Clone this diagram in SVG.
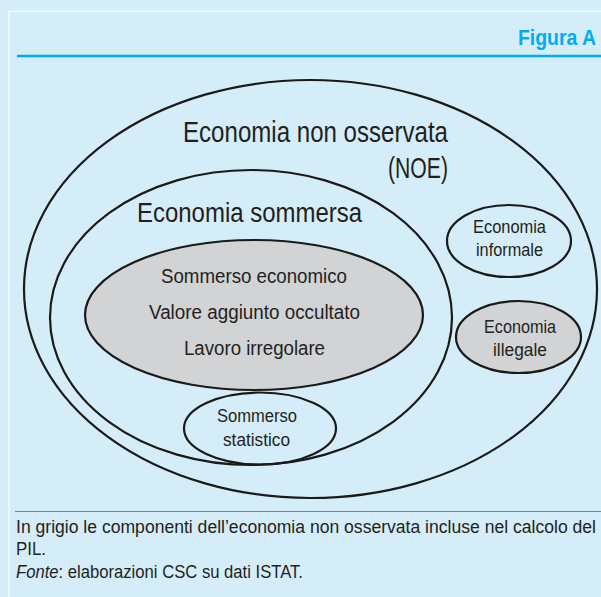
<svg xmlns="http://www.w3.org/2000/svg" width="601" height="597" viewBox="0 0 601 597">
<style>
text{font-family:"Liberation Sans Narrow","Liberation Sans",Arial,sans-serif;fill:#231f20;}
.e{stroke:#1a1a1a;stroke-width:2.2;fill:none;}
.g{fill:#d1d3d4;}
.c{text-anchor:middle;}
.s{font-size:17.5px;}
</style>
<rect x="0" y="0" width="601" height="597" fill="#d5edf9"/>
<g id="frame">
<line x1="8" y1="11.5" x2="601" y2="11.5" stroke="#ffffff" stroke-width="1.2"/>
<line x1="9" y1="11" x2="9" y2="597" stroke="#ffffff" stroke-width="1.2"/>
<line x1="17" y1="56" x2="601" y2="56" stroke="#00aeef" stroke-width="2.4"/>
<line x1="15" y1="511.5" x2="601" y2="511.5" stroke="#00aeef" stroke-width="1"/>
<text x="596" y="45" style="fill:#00aeef;font-weight:bold;font-size:22px;text-anchor:end" textLength="78" lengthAdjust="spacingAndGlyphs">Figura A</text>
</g>
<g id="noe">
<ellipse class="e" cx="310.5" cy="289" rx="286.5" ry="209"/>
<text x="183" y="142" style="font-size:29px" textLength="265" lengthAdjust="spacingAndGlyphs">Economia non osservata</text>
<text x="388" y="178" style="font-size:29px" textLength="60" lengthAdjust="spacingAndGlyphs">(NOE)</text>
</g>
<g id="sommersa">
<ellipse class="e" cx="251" cy="317.5" rx="201" ry="147.5"/>
<text x="137" y="222" style="font-size:27px" textLength="225" lengthAdjust="spacingAndGlyphs">Economia sommersa</text>
</g>
<g id="sommerso-economico">
<ellipse class="e g" cx="254" cy="315" rx="169" ry="75"/>
<text x="161" y="283" style="font-size:20px" textLength="186" lengthAdjust="spacingAndGlyphs">Sommerso economico</text>
<text x="149" y="319" style="font-size:20px" textLength="211" lengthAdjust="spacingAndGlyphs">Valore aggiunto occultato</text>
<text x="184" y="355" style="font-size:20px" textLength="141" lengthAdjust="spacingAndGlyphs">Lavoro irregolare</text>
</g>
<g id="sommerso-statistico">
<ellipse class="e" cx="260" cy="428.5" rx="76" ry="36"/>
<text class="s" x="217" y="422" textLength="80" lengthAdjust="spacingAndGlyphs">Sommerso</text>
<text class="s" x="223" y="446" textLength="67" lengthAdjust="spacingAndGlyphs">statistico</text>
</g>
<g id="informale">
<ellipse class="e" cx="509" cy="241" rx="62" ry="36"/>
<text class="s" x="473" y="233" textLength="73" lengthAdjust="spacingAndGlyphs">Economia</text>
<text class="s" x="476" y="256" textLength="67" lengthAdjust="spacingAndGlyphs">informale</text>
</g>
<g id="illegale">
<ellipse class="e g" cx="518.5" cy="337" rx="62.5" ry="36"/>
<text class="s" x="484" y="333" textLength="72" lengthAdjust="spacingAndGlyphs">Economia</text>
<text class="s" x="493" y="356" textLength="54" lengthAdjust="spacingAndGlyphs">illegale</text>
</g>
<g id="caption">
<text x="16" y="533" style="font-size:17.5px" textLength="580" lengthAdjust="spacingAndGlyphs">In grigio le componenti dell’economia non osservata incluse nel calcolo del</text>
<text x="16" y="555" style="font-size:17.5px" textLength="30" lengthAdjust="spacingAndGlyphs">PIL.</text>
<text x="16" y="578" style="font-size:17.5px" textLength="287" lengthAdjust="spacingAndGlyphs"><tspan style="font-style:italic">Fonte</tspan>: elaborazioni CSC su dati ISTAT.</text>
</g>
</svg>
